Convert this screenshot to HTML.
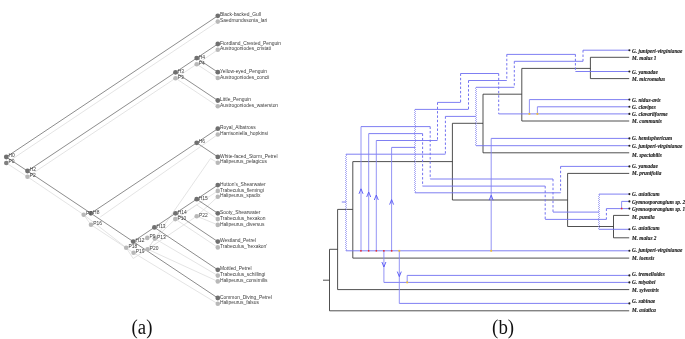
<!DOCTYPE html>
<html><head><meta charset="utf-8"><title>Cophylogeny figure</title>
<style>
html,body{margin:0;padding:0;background:#fff;}
svg{display:block}
.lt text{font-family:"Liberation Sans",Arial,sans-serif;font-size:4.93px;}
.rt text{font-family:"Liberation Serif","Times New Roman",serif;font-size:5.28px;font-weight:bold;font-style:italic;stroke:#222;stroke-width:0.12px;}
.cap{font-family:"Liberation Serif","Times New Roman",serif;font-size:20px;fill:#111;}
</style></head><body>
<svg width="685" height="339" viewBox="0 0 685 339">
<rect width="685" height="339" fill="#fff"/>
<g stroke="#e1e1e1" stroke-width="0.9" fill="none">
<line x1="6.3" y1="163.0" x2="217.8" y2="21.6"/>
<line x1="6.3" y1="163.0" x2="27.5" y2="176.8"/>
<line x1="27.5" y1="176.8" x2="175.5" y2="78.2"/>
<line x1="175.5" y1="78.2" x2="196.7" y2="64.2"/>
<line x1="196.7" y1="64.2" x2="217.8" y2="49.8"/>
<line x1="196.7" y1="64.2" x2="217.8" y2="78.0"/>
<line x1="175.5" y1="78.2" x2="217.8" y2="106.3"/>
<line x1="27.5" y1="176.8" x2="83.7" y2="214.7"/>
<line x1="83.7" y1="214.7" x2="91.0" y2="224.8"/>
<line x1="83.7" y1="214.7" x2="126.2" y2="247.7"/>
<line x1="91.0" y1="224.8" x2="133.6" y2="252.8"/>
<line x1="100.3" y1="217.0" x2="217.8" y2="134.5"/>
<line x1="217.8" y1="162.7" x2="210.5" y2="158.5"/>
<line x1="210.5" y1="158.5" x2="147.6" y2="249.2"/>
<line x1="175.3" y1="219.1" x2="217.8" y2="190.9"/>
<line x1="196.7" y1="216.2" x2="217.8" y2="196.7"/>
<line x1="175.3" y1="219.1" x2="196.6" y2="204.9"/>
<line x1="196.6" y1="204.9" x2="217.8" y2="219.1"/>
<line x1="196.7" y1="216.2" x2="217.8" y2="224.9"/>
<line x1="175.3" y1="219.1" x2="217.8" y2="247.4"/>
<line x1="154.8" y1="238.6" x2="217.8" y2="275.6"/>
<line x1="147.6" y1="249.2" x2="217.8" y2="281.4"/>
<line x1="133.6" y1="252.8" x2="217.8" y2="303.8"/>
<line x1="126.2" y1="247.7" x2="133.2" y2="258.5"/>
<line x1="133.2" y1="258.5" x2="147.6" y2="249.2"/>
<line x1="147.6" y1="249.2" x2="154.8" y2="238.6"/>
<line x1="154.8" y1="238.6" x2="175.3" y2="219.1"/>
<line x1="147.6" y1="249.2" x2="196.7" y2="216.2"/>
<line x1="126.2" y1="247.7" x2="147.3" y2="237.9"/>
</g>
<g stroke="#787878" stroke-width="0.85" fill="none">
<line x1="6.3" y1="157.0" x2="217.8" y2="15.8"/>
<line x1="6.3" y1="157.0" x2="27.5" y2="171.0"/>
<line x1="27.5" y1="171.0" x2="175.5" y2="72.3"/>
<line x1="27.5" y1="171.0" x2="90.9" y2="213.3"/>
<line x1="175.5" y1="72.3" x2="196.7" y2="58.1"/>
<line x1="175.5" y1="72.3" x2="217.8" y2="100.5"/>
<line x1="196.7" y1="58.1" x2="217.8" y2="44.0"/>
<line x1="196.7" y1="58.1" x2="217.8" y2="72.2"/>
<line x1="90.9" y1="213.3" x2="196.7" y2="142.8"/>
<line x1="90.9" y1="213.3" x2="133.2" y2="241.6"/>
<line x1="196.7" y1="142.8" x2="217.8" y2="128.7"/>
<line x1="196.7" y1="142.8" x2="217.8" y2="156.9"/>
<line x1="133.2" y1="241.6" x2="154.4" y2="227.4"/>
<line x1="133.2" y1="241.6" x2="217.8" y2="298.0"/>
<line x1="154.4" y1="227.4" x2="175.5" y2="213.3"/>
<line x1="154.4" y1="227.4" x2="217.8" y2="269.8"/>
<line x1="175.5" y1="213.3" x2="196.7" y2="199.2"/>
<line x1="175.5" y1="213.3" x2="217.8" y2="241.6"/>
<line x1="196.7" y1="199.2" x2="217.8" y2="185.1"/>
<line x1="196.7" y1="199.2" x2="217.8" y2="213.3"/>
</g>
<g fill="#b8b8b8">
<circle cx="6.3" cy="163.0" r="2.3" fill="#808080"/>
<circle cx="27.5" cy="176.8" r="2.3"/>
<circle cx="175.5" cy="78.2" r="2.3"/>
<circle cx="196.7" cy="64.2" r="2.3"/>
<circle cx="83.7" cy="214.7" r="2.3"/>
<circle cx="91.0" cy="224.8" r="2.3"/>
<circle cx="126.2" cy="247.7" r="2.3"/>
<circle cx="133.6" cy="252.8" r="2.3"/>
<circle cx="147.6" cy="249.2" r="2.3"/>
<circle cx="147.3" cy="237.9" r="2.3"/>
<circle cx="154.8" cy="238.6" r="2.3"/>
<circle cx="175.3" cy="219.1" r="2.3"/>
<circle cx="196.7" cy="216.2" r="2.3"/>
<circle cx="217.8" cy="21.6" r="2.3"/>
<circle cx="217.8" cy="49.8" r="2.3"/>
<circle cx="217.8" cy="78.0" r="2.3"/>
<circle cx="217.8" cy="106.3" r="2.3"/>
<circle cx="217.8" cy="134.5" r="2.3"/>
<circle cx="217.8" cy="162.7" r="2.3"/>
<circle cx="217.8" cy="190.9" r="2.3"/>
<circle cx="217.8" cy="196.7" r="2.3"/>
<circle cx="217.8" cy="219.1" r="2.3"/>
<circle cx="217.8" cy="224.9" r="2.3"/>
<circle cx="217.8" cy="247.4" r="2.3"/>
<circle cx="217.8" cy="275.6" r="2.3"/>
<circle cx="217.8" cy="281.4" r="2.3"/>
<circle cx="217.8" cy="303.8" r="2.3"/>
</g>
<g fill="#707070">
<circle cx="6.3" cy="157.0" r="2.4"/>
<circle cx="27.5" cy="171.0" r="2.4"/>
<circle cx="175.5" cy="72.3" r="2.4"/>
<circle cx="196.7" cy="58.1" r="2.4"/>
<circle cx="90.9" cy="213.3" r="2.4"/>
<circle cx="196.7" cy="142.8" r="2.4"/>
<circle cx="133.2" cy="241.6" r="2.4"/>
<circle cx="154.4" cy="227.4" r="2.4"/>
<circle cx="175.5" cy="213.3" r="2.4"/>
<circle cx="196.7" cy="199.2" r="2.4"/>
<circle cx="217.8" cy="15.8" r="2.4"/>
<circle cx="217.8" cy="44.0" r="2.4"/>
<circle cx="217.8" cy="72.2" r="2.4"/>
<circle cx="217.8" cy="100.5" r="2.4"/>
<circle cx="217.8" cy="128.7" r="2.4"/>
<circle cx="217.8" cy="156.9" r="2.4"/>
<circle cx="217.8" cy="185.1" r="2.4"/>
<circle cx="217.8" cy="213.3" r="2.4"/>
<circle cx="217.8" cy="241.6" r="2.4"/>
<circle cx="217.8" cy="269.8" r="2.4"/>
<circle cx="217.8" cy="298.0" r="2.4"/>
</g>
<g class="lt" fill="#3c3c3c">
<text x="220.0" y="16.4">Black-backed_Gull</text>
<text x="220.0" y="44.6">Fiordland_Crested_Penguin</text>
<text x="220.0" y="72.8">Yellow-eyed_Penguin</text>
<text x="220.0" y="101.1">Little_Penguin</text>
<text x="220.0" y="129.3">Royal_Albatross</text>
<text x="220.0" y="157.5">White-faced_Storm_Petrel</text>
<text x="220.0" y="185.7">Hutton&#39;s_Shearwater</text>
<text x="220.0" y="213.9">Sooty_Shearwater</text>
<text x="220.0" y="242.2">Westland_Petrel</text>
<text x="220.0" y="270.4">Mottled_Petrel</text>
<text x="220.0" y="298.6">Common_Diving_Petrel</text>
<text x="220.0" y="22.2">Saedmundssonia_lari</text>
<text x="220.0" y="50.4">Austrogoniodes_cristati</text>
<text x="220.0" y="78.6">Austrogoniodes_concii</text>
<text x="220.0" y="106.9">Austrogoniodes_waterston</text>
<text x="220.0" y="135.1">Harrisoniella_hopkinsi</text>
<text x="220.0" y="163.3">Halipeurus_pelagicus</text>
<text x="220.0" y="191.5">Trabeculus_flemingi</text>
<text x="220.0" y="197.3">Halipeurus_spadix</text>
<text x="220.0" y="219.7">Trabeculus_hexakon</text>
<text x="220.0" y="225.5">Halipeurus_diversus</text>
<text x="220.0" y="248.0">Trabeculus_&#39;hexakon&#39;</text>
<text x="220.0" y="276.2">Trabeculus_schillingi</text>
<text x="220.0" y="282.0">Halipeurus_consimilis</text>
<text x="220.0" y="304.4">Halipeurus_falsus</text>
<text x="8.5" y="157.4">H0</text>
<text x="29.7" y="171.4">H2</text>
<text x="177.7" y="72.7">H3</text>
<text x="198.8" y="58.5">H4</text>
<text x="93.1" y="213.7">H8</text>
<text x="198.8" y="143.2">H6</text>
<text x="135.4" y="242.0">H12</text>
<text x="156.6" y="227.8">H13</text>
<text x="177.7" y="213.7">H14</text>
<text x="198.8" y="199.6">H15</text>
<text x="8.5" y="163.4">P0</text>
<text x="29.7" y="177.2">P2</text>
<text x="177.7" y="78.6">P3</text>
<text x="198.8" y="64.6">P4</text>
<text x="85.9" y="215.1">P7</text>
<text x="93.2" y="225.2">P16</text>
<text x="128.4" y="248.1">P18</text>
<text x="135.8" y="253.2">P19</text>
<text x="149.8" y="249.6">P20</text>
<text x="149.5" y="238.3">P9</text>
<text x="157.0" y="239.0">P13</text>
<text x="177.5" y="219.5">P10</text>
<text x="198.9" y="216.6">P22</text>
</g>
<path d="M323.0 280.2H329.5M329.5 249.3V310.8M329.5 310.8H629.2M329.5 249.3H337.6M337.6 209.4V289.6M337.6 289.6H629.2M337.6 209.4H352.8M352.8 161.6V258.1M352.8 258.1H629.2M352.8 161.6H452.4M452.4 123.3V200.0M452.4 123.3H483.0M483.0 94.2V152.8M483.0 152.8H629.2M483.0 94.2H521.8M521.8 68.4V121.0M521.8 121.0H629.2M521.8 68.4H590.4M590.4 57.3V78.6M590.4 57.3H629.2M590.4 78.6H629.2M452.4 200.0H567.6M567.6 173.4V226.5M567.6 173.4H629.2M567.6 226.5H613.5M613.5 215.4V237.8M613.5 215.4H629.2M613.5 237.8H629.2" stroke="#303030" stroke-width="0.85" fill="none"/>
<path d="M583.0 50.2H629.2M514.3 61.3H583.0M476.0 87.3H514.3M476.0 145.7H629.2M575.4 71.5H629.2M506.8 54.4H575.4M468.5 80.5H506.8M415.0 109.4H468.5M391.6 147.4H415.0M415.0 192.8H560.6M560.6 166.4H629.2M498.7 113.9H629.2M460.6 73.5H498.7M437.5 102.4H460.6M376.3 140.5H437.5M529.4 99.6H629.2M537.4 106.8H629.2M445.4 116.4H476.0M346.0 154.2H445.4M346.0 250.8H629.2M341.8 202.0H346.0M491.2 138.4H629.2M361.0 126.6H430.2M430.2 179.0H553.0M553.0 212.1H599.0M368.7 133.6H422.6M422.6 186.1H545.2M545.2 219.4H606.4M606.4 208.6H629.2M621.6 201.4H629.2M599.0 194.1H629.2M599.0 229.3H629.2M383.9 282.4H629.2M407.2 275.4H629.2M399.3 303.4H629.2" stroke="#7070f0" stroke-width="0.9" fill="none"/>
<path d="M529.4 99.6V113.9M537.4 106.8V113.9M491.2 138.4V250.8M621.6 201.4V208.6M361.0 126.6V250.8M368.7 133.6V250.8M376.3 140.5V250.8M391.6 147.4V250.8M383.9 250.8V282.4M407.2 275.4V282.4M399.3 250.8V303.4" stroke="#8484f3" stroke-width="0.87" fill="none"/>
<path d="M583.0 50.2V61.3M514.3 61.3V87.3M575.4 54.4V71.5M506.8 54.4V80.5M468.5 80.5V109.4M560.6 166.4V192.8M498.7 73.5V113.9M460.6 73.5V102.4M437.5 102.4V140.5M445.4 116.4V154.2M430.2 126.6V179.0M553.0 179.0V212.1M422.6 133.6V186.1M545.2 186.1V219.4M606.4 208.6V219.4" stroke="#7272f0" stroke-width="1" fill="none" stroke-dasharray="2.4 1.95"/>
<path d="M476.0 87.3L476.0 88L475.50 88.5L476.50 89.5L475.50 90.5L476.50 91.5L475.50 92.5L476.50 93.5L475.50 94.5L476.50 95.5L475.50 96.5L476.50 97.5L475.50 98.5L476.50 99.5L475.50 100.5L476.50 101.5L475.50 102.5L476.50 103.5L475.50 104.5L476.50 105.5L475.50 106.5L476.50 107.5L475.50 108.5L476.50 109.5L475.50 110.5L476.50 111.5L475.50 112.5L476.50 113.5L475.50 114.5L476.50 115.5L475.50 116.5L476.50 117.5L475.50 118.5L476.50 119.5L475.50 120.5L476.50 121.5L475.50 122.5L476.50 123.5L475.50 124.5L476.50 125.5L475.50 126.5L476.50 127.5L475.50 128.5L476.50 129.5L475.50 130.5L476.50 131.5L475.50 132.5L476.50 133.5L475.50 134.5L476.50 135.5L475.50 136.5L476.50 137.5L475.50 138.5L476.50 139.5L475.50 140.5L476.50 141.5L475.50 142.5L476.50 143.5L475.50 144.5L476.0 145L476.0 145.7M415.0 109.4L415.0 110L414.50 110.5L415.50 111.5L414.50 112.5L415.50 113.5L414.50 114.5L415.50 115.5L414.50 116.5L415.50 117.5L414.50 118.5L415.50 119.5L414.50 120.5L415.50 121.5L414.50 122.5L415.50 123.5L414.50 124.5L415.50 125.5L414.50 126.5L415.50 127.5L414.50 128.5L415.50 129.5L414.50 130.5L415.50 131.5L414.50 132.5L415.50 133.5L414.50 134.5L415.50 135.5L414.50 136.5L415.50 137.5L414.50 138.5L415.50 139.5L414.50 140.5L415.50 141.5L414.50 142.5L415.50 143.5L414.50 144.5L415.50 145.5L414.50 146.5L415.50 147.5L414.50 148.5L415.50 149.5L414.50 150.5L415.50 151.5L414.50 152.5L415.50 153.5L414.50 154.5L415.50 155.5L414.50 156.5L415.50 157.5L414.50 158.5L415.50 159.5L414.50 160.5L415.50 161.5L414.50 162.5L415.50 163.5L414.50 164.5L415.50 165.5L414.50 166.5L415.50 167.5L414.50 168.5L415.50 169.5L414.50 170.5L415.50 171.5L414.50 172.5L415.50 173.5L414.50 174.5L415.50 175.5L414.50 176.5L415.50 177.5L414.50 178.5L415.50 179.5L414.50 180.5L415.50 181.5L414.50 182.5L415.50 183.5L414.50 184.5L415.50 185.5L414.50 186.5L415.50 187.5L414.50 188.5L415.50 189.5L414.50 190.5L415.50 191.5L415.0 192L415.0 192.8M346.0 154.2L346.0 155L346.50 155.5L345.50 156.5L346.50 157.5L345.50 158.5L346.50 159.5L345.50 160.5L346.50 161.5L345.50 162.5L346.50 163.5L345.50 164.5L346.50 165.5L345.50 166.5L346.50 167.5L345.50 168.5L346.50 169.5L345.50 170.5L346.50 171.5L345.50 172.5L346.50 173.5L345.50 174.5L346.50 175.5L345.50 176.5L346.50 177.5L345.50 178.5L346.50 179.5L345.50 180.5L346.50 181.5L345.50 182.5L346.50 183.5L345.50 184.5L346.50 185.5L345.50 186.5L346.50 187.5L345.50 188.5L346.50 189.5L345.50 190.5L346.50 191.5L345.50 192.5L346.50 193.5L345.50 194.5L346.50 195.5L345.50 196.5L346.50 197.5L345.50 198.5L346.50 199.5L345.50 200.5L346.50 201.5L345.50 202.5L346.50 203.5L345.50 204.5L346.50 205.5L345.50 206.5L346.50 207.5L345.50 208.5L346.50 209.5L345.50 210.5L346.50 211.5L345.50 212.5L346.50 213.5L345.50 214.5L346.50 215.5L345.50 216.5L346.50 217.5L345.50 218.5L346.50 219.5L345.50 220.5L346.50 221.5L345.50 222.5L346.50 223.5L345.50 224.5L346.50 225.5L345.50 226.5L346.50 227.5L345.50 228.5L346.50 229.5L345.50 230.5L346.50 231.5L345.50 232.5L346.50 233.5L345.50 234.5L346.50 235.5L345.50 236.5L346.50 237.5L345.50 238.5L346.50 239.5L345.50 240.5L346.50 241.5L345.50 242.5L346.50 243.5L345.50 244.5L346.50 245.5L345.50 246.5L346.50 247.5L345.50 248.5L346.50 249.5L346.0 250L346.0 250.8M599.0 194.1L599.0 195L599.50 195.5L598.50 196.5L599.50 197.5L598.50 198.5L599.50 199.5L598.50 200.5L599.50 201.5L598.50 202.5L599.50 203.5L598.50 204.5L599.50 205.5L598.50 206.5L599.50 207.5L598.50 208.5L599.50 209.5L598.50 210.5L599.50 211.5L598.50 212.5L599.50 213.5L598.50 214.5L599.50 215.5L598.50 216.5L599.50 217.5L598.50 218.5L599.50 219.5L598.50 220.5L599.50 221.5L598.50 222.5L599.50 223.5L598.50 224.5L599.50 225.5L598.50 226.5L599.50 227.5L598.50 228.5L599.0 229L599.0 229.3" stroke="#7a7aee" stroke-width="0.8" stroke-linejoin="round" fill="none"/>
<path d="M359.0 193.8L361.0 188.8L363.0 193.8M366.7 197.0L368.7 192.0L370.7 197.0M374.3 200.0L376.3 195.0L378.3 200.0M389.6 204.6L391.6 199.6L393.6 204.6M489.2 200.2L491.2 195.2L493.2 200.2M381.9 262.0L383.9 267.0L385.9 262.0M397.3 271.6L399.3 276.6L401.3 271.6" stroke="#5555f5" stroke-width="0.9" fill="none"/>
<rect x="360.2" y="250.1" width="1.5" height="1.5" fill="#ee2222"/>
<rect x="367.9" y="250.1" width="1.5" height="1.5" fill="#ee2222"/>
<rect x="375.6" y="250.1" width="1.5" height="1.5" fill="#ee2222"/>
<rect x="383.1" y="250.1" width="1.5" height="1.5" fill="#ee2222"/>
<rect x="390.9" y="250.1" width="1.5" height="1.5" fill="#ee2222"/>
<rect x="620.9" y="207.8" width="1.5" height="1.5" fill="#ee2222"/>
<rect x="398.4" y="249.9" width="1.8" height="1.8" fill="#f0c030"/>
<rect x="490.3" y="249.9" width="1.8" height="1.8" fill="#f0c030"/>
<rect x="406.3" y="281.5" width="1.8" height="1.8" fill="#f0c030"/>
<rect x="528.5" y="113.0" width="1.8" height="1.8" fill="#f0c030"/>
<rect x="536.5" y="113.0" width="1.8" height="1.8" fill="#f0c030"/>
<g fill="#222">
<circle cx="629.4" cy="50.2" r="1.05"/>
<circle cx="629.4" cy="71.5" r="1.05"/>
<circle cx="629.4" cy="99.6" r="1.05"/>
<circle cx="629.4" cy="106.8" r="1.05"/>
<circle cx="629.4" cy="113.9" r="1.05"/>
<circle cx="629.4" cy="138.4" r="1.05"/>
<circle cx="629.4" cy="145.7" r="1.05"/>
<circle cx="629.4" cy="166.4" r="1.05"/>
<circle cx="629.4" cy="194.1" r="1.05"/>
<circle cx="629.4" cy="201.4" r="1.05"/>
<circle cx="629.4" cy="208.6" r="1.05"/>
<circle cx="629.4" cy="229.3" r="1.05"/>
<circle cx="629.4" cy="250.8" r="1.05"/>
<circle cx="629.4" cy="275.4" r="1.05"/>
<circle cx="629.4" cy="282.4" r="1.05"/>
<circle cx="629.4" cy="303.4" r="1.05"/>
</g>
<g class="rt" fill="#222">
<text x="632.0" y="52.80">G. juniperi-virginianae</text>
<text x="632.0" y="60.05">M. malus 1</text>
<text x="632.0" y="73.70">G. yamadae</text>
<text x="632.0" y="81.00">M. micromalus</text>
<text x="632.0" y="101.70">G. nidus-avis</text>
<text x="632.0" y="109.00">G. clavipes</text>
<text x="632.0" y="115.70">G. clavariiforme</text>
<text x="632.0" y="122.80">M. communis</text>
<text x="632.0" y="139.90">G. hemisphericum</text>
<text x="632.0" y="148.40">G. juniperi-virginianae</text>
<text x="632.0" y="157.10">M. spectabilis</text>
<text x="632.0" y="167.70">G. yamadae</text>
<text x="632.0" y="175.10">M. prunifolia</text>
<text x="632.0" y="195.80">G. asiaticum</text>
<text x="632.0" y="203.80">Gymnosporangium sp. 2</text>
<text x="632.0" y="211.00">Gymnosporangium sp. 1</text>
<text x="632.0" y="218.55">M. pumila</text>
<text x="632.0" y="229.90">G. asiaticum</text>
<text x="632.0" y="240.10">M. malus 2</text>
<text x="632.0" y="252.20">G. juniperi-virginianae</text>
<text x="632.0" y="259.50">M. ioensis</text>
<text x="632.0" y="276.00">G. tremelloides</text>
<text x="632.0" y="284.10">G. miyabei</text>
<text x="632.0" y="292.10">M. sylvestris</text>
<text x="632.0" y="303.10">G. sabinae</text>
<text x="632.0" y="311.90">M. asiatica</text>
</g>
<text class="cap" x="131.6" y="334.4" textLength="20.8" lengthAdjust="spacingAndGlyphs">(a)</text>
<text class="cap" x="492.1" y="334.4" textLength="22" lengthAdjust="spacingAndGlyphs">(b)</text>
</svg>
</body></html>
